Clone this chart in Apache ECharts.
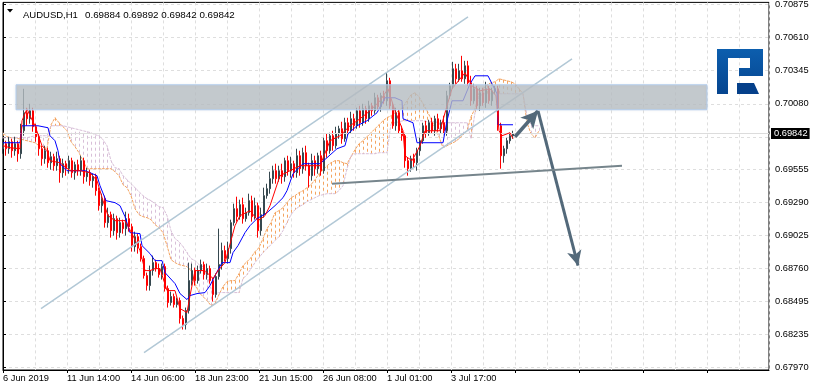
<!DOCTYPE html>
<html><head><meta charset="utf-8"><style>html,body{margin:0;padding:0;background:#fff}#c{width:815px;height:391px}</style>
<script src="https://cdn.jsdelivr.net/npm/echarts@6/dist/echarts.min.js"></script></head><body><div id="c"></div>
<script>
// Prices are in 1/100000 (69842 = 0.69842). Candle bars are sampled every 3 hours.
const candleStep = 3;
const closes = [69760,69720,69776,69704,69760,69680,69864,70008,69960,70024,69896,69816,69720,69640,69704,69608,69656,69584,69640,69528,69600,69560,69624,69528,69592,69544,69624,69496,69528,69464,69496,69384,69264,69320,69128,69192,69064,69160,69048,69128,69080,69160,69096,68936,69016,68936,68840,68704,68624,68744,68808,68760,68712,68776,68600,68488,68536,68472,68504,68360,68312,68424,68664,68744,68664,68744,68792,68712,68760,68664,68552,68696,68792,68904,68840,68920,69128,69240,69176,69272,69160,69208,69304,69176,69264,69064,69192,69344,69400,69480,69544,69480,69544,69496,69624,69544,69600,69528,69664,69560,69688,69584,69504,69624,69560,69664,69544,69784,69704,69824,69744,69840,69880,69800,69928,69864,69960,69904,70024,69928,70040,69960,70064,70024,70128,70056,70144,70104,70264,70064,69904,70008,69864,69824,69624,69560,69640,69608,69704,69784,69904,69848,69928,69864,69960,69880,69928,69864,70144,70224,70360,70280,70344,70280,70384,70248,70104,70200,70064,70168,70088,70200,70104,70184,70200,69904,69664,69720,69784,69824,69840];
const firstOpen = 69720;
const upperWicks = [40,24,40,24,56,24,56,192,40,56, 24,24,24,24,40,24,40,24,56,24, 40,24,40,24,24,40,40,24,40,24, 24,24,24,40,24,56,24,40,24,40, 24,56,40,24,40,24,24,24,24,40, 56,24,40,24,24,24,40,24,24,24, 24,24,144,56,24,40,40,24,40,24, 24,24,288,64,40,56,24,40,96,40, 56,40,56,40,64,24,56,64,40,56, 40,56,40,56,24,40,56,24,56,40, 40,56,24,56,40,24,40,24,56,24, 40,56,24,56,40,40,56,40,24,40, 40,24,40,24,40,24,24,40,64,24, 24,40,24,40,24,24,24,40,24,24, 24,40,24,40,24,40,24,56,40,24, 56,40,56,120,40,40,56,40,24,40, 40,56,24,24,24,24,24,24,24,24,24];
const lowerWicks = [40,56,40,56,40,64,40,40,56,40, 40,40,56,56,40,40,56,40,40,80, 40,56,40,40,56,40,40,56,40,40, 56,40,40,56,40,40,56,40,56,40, 40,56,40,40,40,56,24,24,40,40, 40,24,24,40,24,40,24,24,24,40, 40,40,24,40,40,24,24,40,40,24, 56,24,24,40,24,40,40,24,40,24, 40,24,24,40,24,56,40,24,24,40, 40,40,24,56,40,40,56,40,40,56, 40,40,96,40,56,40,40,24,56,24, 40,24,40,40,24,40,24,40,24,40, 24,40,24,40,24,24,40,24,40,24, 24,40,24,40,56,56,24,40,64,40, 24,40,24,24,40,24,40,24,40,24, 24,40,24,24,40,24,40,24,24,40, 24,40,24,40,24,40,104,56,40,24,24];

const tenkanBars = [0,7,17,19,24,27,32,39,44,47,57,67,77,87,94,100,105,112,122,130,137,142,147,152,157,164,172,177,184,187,192,202,210,215,222,232,237,247,255,262,267,277,287,297,307,317,327,337,347,357,367,377,385,392,400,402,409,417,422,437,444,449,462,469,477,487,493,496,499,507,510];
const tenkanValues = [69744,69728,69720,69944,70040,69984,69904,69744,69704,69624,69608,69544,69544,69528,69464,69304,69184,69144,69144,69024,68904,68744,68744,68760,68760,68584,68584,68440,68408,68544,68744,68744,68680,68744,68808,69104,69184,69224,69144,69184,69264,69504,69544,69584,69584,69584,69784,69824,69904,69960,70024,70104,70200,70024,69864,69664,69624,69744,69864,69864,70064,70200,70328,70224,70184,70200,70144,69864,69824,69848,69800];
const kijunBars = [0,17,19,35,36,45,47,52,55,57,64,82,87,94,97,103,112,117,122,127,137,139,147,152,159,162,172,177,184,187,194,202,207,212,219,227,230,235,242,247,254,264,272,280,284,290,300,317,324,334,342,345,354,364,374,382,392,399,400,410,414,440,444,449,460,467,472,485,494,495,510];
const kijunValues = [69768,69768,69904,69904,69888,69888,69824,69784,69704,69600,69544,69544,69528,69504,69424,69304,69288,69264,69176,69048,69040,68944,68880,68824,68824,68728,68640,68560,68512,68544,68560,68568,68624,68704,68808,68808,68888,68944,69048,69104,69160,69208,69264,69328,69384,69520,69600,69600,69648,69720,69744,69840,69904,69944,70008,70128,70128,70104,69960,69928,69768,69768,69944,70104,70104,70240,70304,70304,70160,69912,69912];

// Ichimoku cloud edges, one reading every 4 bars
const cloudStep = 4;
const senkouA = [69848,69816,69808,69808,69800,69792,69784,69776,69768,69744,69736,69720,69912,69968,69928,69896,69864,69776,69736,69688,69624,69560,69560,69560,69560,69560,69560,69560,69536,69504,69432,69408,69344,69240,69192,69176,69168,69152,69112,69088,69048,68944,68832,68808,68792,68784,68776,68744,68640,68568,68536,68504,68464,68480,68552,68616,68656,68664,68664,68720,68784,68816,68848,68896,68928,69000,69080,69128,69208,69224,69248,69288,69328,69344,69368,69384,69408,69432,69472,69520,69552,69584,69608,69624,69624,69608,69600,69656,69712,69760,69784,69816,69848,69880,69912,69944,69968,69984,70008,70024,70056,70104,70152,70168,70136,70080,70024,69960,69888,69816,69728,69744,69760,69776,69800,69832,69864,69976,70040,70168,70200,70232,70248,70256,70280,70272,70264,70256,70240,70200,70160,69928,69840,69808,69864];
const senkouB = [69808,69808,69808,69808,69808,69808,69808,69816,69824,69824,69824,69824,69904,69904,69904,69904,69896,69888,69880,69872,69864,69856,69848,69832,69824,69792,69744,69624,69568,69560,69504,69472,69440,69408,69376,69344,69320,69304,69280,69256,69248,69184,69064,69000,68976,68936,68888,68840,68824,68792,68776,68704,68600,68560,68568,68568,68568,68568,68568,68568,68680,68712,68760,68808,68848,68888,68920,68952,68984,69016,69064,69128,69192,69232,69256,69272,69296,69312,69328,69344,69352,69360,69360,69360,69384,69424,69560,69664,69680,69680,69680,69680,69680,69680,69688,69688,69688,69920,69928,69936,69944,69944,69944,69944,69944,69944,69936,69936,69936,69928,69928,69928,69928,69928,69928,69928,69928,69800,70008,70136,70160,70160,70160,70160,70160,70160,70160,70160,70160,70160,70160,69984,69912,69904,69904];

const yTicks = [70875,70610,70345,70080,69815,69555,69290,69025,68760,68495,68235,67970];
const yHiddenLabel = 69815;
const xTickLabels = {0:'6 Jun 2019',64:'11 Jun 14:00',128:'14 Jun 06:00',192:'18 Jun 23:00',256:'21 Jun 15:00',320:'26 Jun 08:00',384:'1 Jul 01:00',448:'3 Jul 17:00'};
const lastPrice = 69842;
const titleName = 'AUDUSD,H1';
const titleQuote = '0.69884 0.69892 0.69842 0.69842';

// Analyst drawings: [bar, price]
const channelUpper = [[38,68440],[465,70776]];
const channelLower = [[141,68088],[569,70440]];
const necklineBase = [[329,69440],[619,69584]];
const arrowUp = [[512,69816],[535,70024]];
const arrowDown = [[535,70024],[575,68784]];
const zone = [13,70232,704,70032];

const F = 'Liberation Sans';
let prev = firstOpen;
const candles = closes.map((c,i)=>{
  const o = prev; prev = c;
  return [i*candleStep, o, c, Math.min(o,c)-(lowerWicks[i]||0), Math.max(o,c)+(upperWicks[i]||0)];
});
const cloud = senkouA.map((a,i)=>[i*cloudStep,a,senkouB[i]]);
const pair = (b,v)=>b.map((x,i)=>[x,v[i]]);
const plain = {type:'line',showSymbol:false,symbol:'none',silent:true,animation:false};
const drawn = (d,color,width,z)=>({...plain,data:d,z,lineStyle:{color,width}});
const arrow = (d,size,w)=>({type:'line',showSymbol:false,symbol:'none',data:[],z:6,silent:true,animation:false,
  markLine:{silent:true,animation:false,symbol:['none','arrow'],symbolSize:size,label:{show:false},
    lineStyle:{color:'#53697a',width:w,type:'solid',opacity:1},
    data:[[{coord:d[0]},{coord:d[1]}]]}});

const chart = echarts.init(document.getElementById('c'),null,{renderer:'canvas'});
chart.setOption({
  animation:false,backgroundColor:'#fff',
  grid:{left:3,top:2,right:46,bottom:21,show:true,borderColor:'#000',borderWidth:1,backgroundColor:'#fff'},
  title:[
    {text:titleName,left:18,top:5,textStyle:{fontFamily:F,fontSize:9.5,fontWeight:'normal',color:'#000'}},
    {text:titleQuote,left:80,top:5,textStyle:{fontFamily:F,fontSize:9.8,fontWeight:'normal',color:'#000'}}
  ],
  xAxis:{type:'value',min:0,max:766,interval:64,
    axisLine:{lineStyle:{color:'#000'}},axisTick:{length:3,lineStyle:{color:'#000'}},
    splitLine:{show:true,lineStyle:{color:'#dedede',type:[3,3]}},
    minorTick:{show:false,splitNumber:2},
    minorSplitLine:{show:true,lineStyle:{color:'#dedede',type:[3,3]}},
    axisLabel:{align:'left',margin:4,fontFamily:F,fontSize:9.3,color:'#000',showMaxLabel:false,
      formatter:v=>xTickLabels[v]||''}},
  yAxis:{type:'value',position:'right',min:67948,max:70892,scale:true,
    axisLine:{show:true,lineStyle:{color:'#000'}},
    axisTick:{show:true,length:3,lineStyle:{color:'#000'},customValues:yTicks},
    splitLine:{show:true,lineStyle:{color:'#dedede',type:[3,3]}},
    axisLabel:{margin:6,fontFamily:F,fontSize:9.3,color:'#000',
      customValues:yTicks.filter(v=>v!==yHiddenLabel),formatter:v=>(v/1e5).toFixed(5)}},
  graphic:[
    {type:'polygon',silent:true,z:20,shape:{points:[[7,9],[13,9],[10,12.5]]},style:{fill:'#000'}},
    {type:'polygon',silent:true,z:20,shape:{points:[[717,49],[763,49],[763,76],[739,76],[739,68],[750,68],[750,58],[728,58],[728,94],[717,94]]},
      style:{fill:new echarts.graphic.LinearGradient(0,0,0,1,[{offset:0,color:'#0c5eae'},{offset:1,color:'#06458f'}])}},
    {type:'polygon',silent:true,z:20,shape:{points:[[737,83],[754,83],[759,94],[737,94]]},style:{fill:'#05408a'}}
  ],
  series:[
    {...plain,name:'Last',data:[],z:1,markLine:{silent:true,animation:false,symbol:'none',
      lineStyle:{color:'#dcdcdc',width:1,type:'solid'},
      label:{position:'end',distance:2,formatter:()=>(lastPrice/1e5).toFixed(5),color:'#fff',backgroundColor:'#000',
        fontFamily:F,fontSize:9.3,padding:[1,2,1,3]},
      data:[{yAxis:lastPrice}]}},
    {type:'custom',name:'Cloud hatch',data:cloud,z:2,silent:true,animation:false,
      encode:{x:0,y:[1,2]},
      renderItem:(p,api)=>{
        const x=api.value(0),a=api.value(1),b=api.value(2);
        const s=api.coord([x,a]),e=api.coord([x,b]);
        return {type:'line',shape:{x1:Math.round(s[0])+0.5,y1:s[1],x2:Math.round(e[0])+0.5,y2:e[1]},
          style:{stroke:a>=b?'#f4a460':'#d8bfd8',lineWidth:1,lineDash:[3,3]}};
      }},
    {...plain,name:'Senkou A',data:pair(senkouA.map((_,i)=>i*cloudStep),senkouA),z:3,lineStyle:{color:'#f4a460',width:1,type:[3,1]}},
    {...plain,name:'Senkou B',data:pair(senkouB.map((_,i)=>i*cloudStep),senkouB),z:3,lineStyle:{color:'#d8bfd8',width:1,type:[3,1]}},
    {type:'candlestick',name:'AUDUSD',data:candles,z:4,silent:true,animation:false,barWidth:2,
      encode:{x:0,y:[1,2,3,4]},
      itemStyle:{color:'#36484f',color0:'#ff0000',borderColor:'#36484f',borderColor0:'#ff0000',borderWidth:1}},
    {...plain,name:'Kijun',data:pair(kijunBars,kijunValues),z:5,lineStyle:{color:'#0000ff',width:1}},
    {...plain,name:'Tenkan',data:pair(tenkanBars,tenkanValues),z:5,lineStyle:{color:'#ff0000',width:1}},
    drawn(channelUpper,'#b2c8d6',1.5,6),
    drawn(channelLower,'#b2c8d6',1.5,6),
    drawn(necklineBase,'#76858c',2,6),
    arrow(arrowUp,[13,17],3.5),
    arrow(arrowDown,[11,15],3),
    {type:'custom',name:'Zone',data:[zone],z:10,silent:true,animation:false,
      encode:{x:[0,2],y:[1,3]},
      renderItem:(p,api)=>{
        const s=api.coord([api.value(0),api.value(1)]),e=api.coord([api.value(2),api.value(3)]);
        return {type:'rect',shape:{x:s[0],y:s[1],width:e[0]-s[0],height:e[1]-s[1]},
          style:{fill:'rgba(182,188,194,0.78)',stroke:'#b3cdee',lineWidth:1,shadowBlur:3,shadowColor:'rgba(120,130,140,0.12)'}};
      }}
  ]
});
</script></body></html>
